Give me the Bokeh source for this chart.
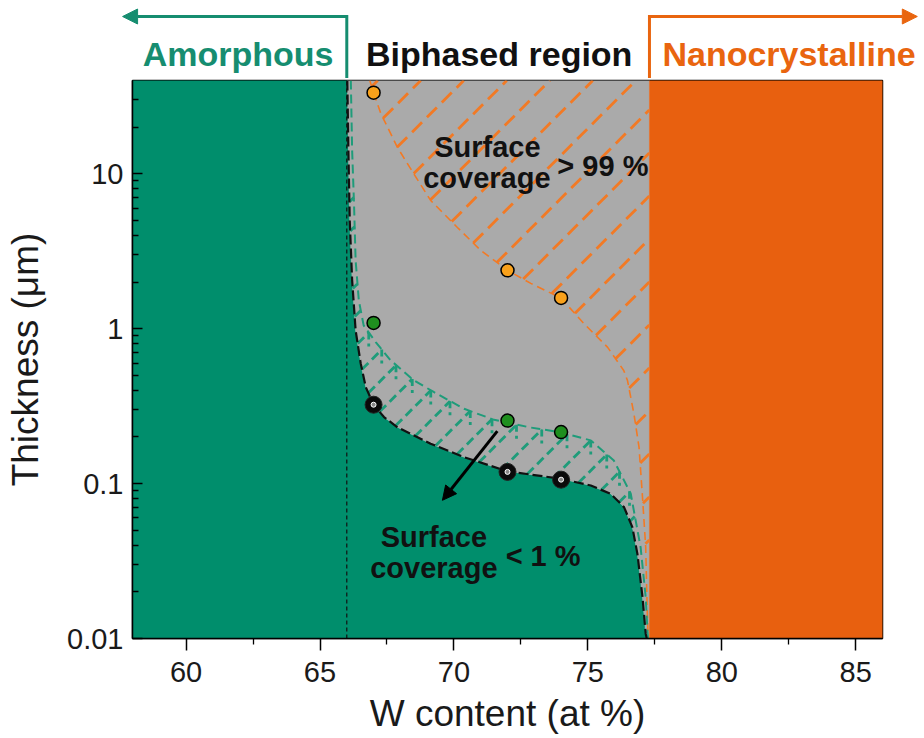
import numpy as np
from bokeh.plotting import figure
from bokeh.models import Range1d, FixedTicker, Arrow, NormalHead
from bokeh.layouts import column
from bokeh.embed import file_html
from bokeh.resources import INLINE
from bokeh.core.properties import value

# ---------------- data ----------------
x_lim = (58, 86)
y_lim = (0.01, 40)
x_ticks = [60, 65, 70, 75, 80, 85]
x_minor = [62.5, 67.5, 72.5, 77.5, 82.5]
y_ticks = [0.01, 0.1, 1, 10]
y_tick_labels = ["0.01", "0.1", "1", "10"]

amorphous_limit = 66.0
nanocryst_limit = 77.3

sample_w = [67, 72, 74]
thick_99 = [33.4, 2.38, 1.58]     # surface coverage > 99 %
thick_1 = [1.09, 0.255, 0.215]    # surface coverage < 1 %
thick_0 = [0.323, 0.119, 0.106]   # onset

# boundary amorphous / biphased (black dashed)
b0_x = [66.02, 66.06, 66.11, 66.20, 66.33, 66.52, 66.71, 67.0, 67.39, 67.89, 69.13,
        70.38, 72.0, 73.99, 75.11, 75.85, 76.35, 76.66, 76.85, 77.04, 77.16, 77.2]
b0_y = [40, 14.1, 5.0, 2.05, 0.974, 0.596, 0.419, 0.323, 0.269, 0.231, 0.181,
        0.148, 0.120, 0.1074, 0.0972, 0.0859, 0.0705, 0.0524, 0.0352, 0.0185, 0.0107, 0.01]
# < 1 % coverage line (green dashed)
b1_x = [66.15, 66.20, 66.27, 66.33, 66.45, 66.63, 67.08, 67.64, 68.51, 69.26, 70.38,
        71.50, 72.87, 73.99, 75.11, 75.97, 76.60, 76.97, 77.16, 77.23, 77.25]
b1_y = [40, 14.1, 6.4, 2.75, 1.52, 1.05, 0.818, 0.624, 0.463, 0.389, 0.304,
        0.258, 0.230, 0.214, 0.190, 0.141, 0.0863, 0.0387, 0.0184, 0.0108, 0.01]
# > 99 % coverage line (orange dashed)
b99_x = [66.86, 67.0, 67.27, 67.89, 68.50, 69.13, 70.13, 71.0, 72.0, 72.87, 73.99,
         74.85, 75.74, 76.34, 76.48, 76.72, 76.91, 77.04, 77.16, 77.22, 77.25]
b99_y = [40, 33.4, 24.5, 14.8, 10.0, 6.73, 4.50, 3.20, 2.38, 1.96, 1.58,
         1.08, 0.757, 0.537, 0.463, 0.282, 0.172, 0.0817, 0.0388, 0.0144, 0.01]

# annotations
hi_text = ["Surface", "coverage"]
hi_text_x = [71.25, 71.23]
hi_text_y = [14.8, 9.46]
hi_pct = "> 99 %"
hi_pct_pos = (73.86, 11.3)
lo_text = ["Surface", "coverage"]
lo_text_x = [69.25, 69.25]
lo_text_y = [0.0451, 0.0287]
lo_pct = "< 1 %"
lo_pct_pos = (71.93, 0.034)
arrow_from = (71.62, 0.218)
arrow_to = (69.57, 0.078)

header_labels = ["Amorphous", "Biphased region", "Nanocrystalline"]
header_label_x = [61.94, 71.69, 82.51]
header_arrow_tips = [57.63, 87.3]

# ---------------- styling / layout ----------------
GREEN = "#008E6C"
GREEN_LINE = "#1F9C7A"
ORANGE = "#E8600F"
ORANGE_LINE = "#F27A25"
GRAY = "#AAAAAA"
HDR_GREEN = "#168D70"
HDR_ORANGE = "#E9650F"
FONT = "Liberation Sans"

W = 920
LEFT = 132
FRAME_W = 750
HDR_H = 78
TOP = 2
FRAME_H = 558
BOTTOM = 98
H = TOP + FRAME_H + BOTTOM

LY0, LY1 = np.log10(y_lim[0]), np.log10(y_lim[1])


def from_px(u, v):
    x = x_lim[0] + u / FRAME_W * (x_lim[1] - x_lim[0])
    Y = LY0 + v / FRAME_H * (LY1 - LY0)
    return x, Y


def to_px(x, Y):
    u = (x - x_lim[0]) / (x_lim[1] - x_lim[0]) * FRAME_W
    v = (Y - LY0) / (LY1 - LY0) * FRAME_H
    return u, v


def sorted_fn(xs, ys):
    Y = np.log10(np.array(ys, dtype=float))
    X = np.array(xs, dtype=float)
    o = np.argsort(Y)
    return lambda q: np.interp(q, Y[o], X[o])


x_b0 = sorted_fn(b0_x, b0_y)
x_b1 = sorted_fn(b1_x, b1_y)
x_b99 = sorted_fn(b99_x, b99_y)


def hatch(left_fn, right_fn, step, phase, min_len=5):
    us = np.arange(0, FRAME_W + 0.25, 0.25)
    segs = []
    c = phase - np.ceil((FRAME_W + phase) / step) * step
    while c < FRAME_H:
        vs = us + c
        ok = (vs >= 0) & (vs <= FRAME_H)
        x, Y = from_px(us, vs)
        inside = ok & (x >= left_fn(Y)) & (x <= right_fn(Y))
        idx = np.flatnonzero(inside)
        if idx.size:
            breaks = np.flatnonzero(np.diff(idx) > 1)
            starts = np.r_[idx[0], idx[breaks + 1]]
            ends = np.r_[idx[breaks], idx[-1]]
            for s, e in zip(starts, ends):
                if (us[e] - us[s]) * 1.414 >= min_len:
                    segs.append(((x[s], x[e]), (Y[s], Y[e])))
        c += step
    return segs


orange_segs = hatch(x_b99, lambda Y: np.full_like(Y, nanocryst_limit), 43, 11.7)
green_segs = hatch(x_b0, x_b1, 30, 9.7, min_len=6)

# short vertical strokes dropping from the green line at the top of each diagonal
b0x_arr = np.array(b0_x)
b0Y_arr = np.log10(np.array(b0_y))
vert_x, vert_y = [], []
for (xs_, Ys_) in green_segs:
    xt, Yt = xs_[1], Ys_[1]
    ut, vt = to_px(xt, Yt)
    seg_len = np.hypot(*np.subtract(to_px(xs_[1], Ys_[1]), to_px(xs_[0], Ys_[0])))
    if seg_len < 10:
        continue
    _, vb_black = to_px(xt, np.interp(xt, b0x_arr, b0Y_arr))
    vb = max(vt - 14, vb_black)
    if vt - vb > 4:
        _, Yb = from_px(ut, vb)
        vert_x.append([xt, xt])
        vert_y.append([10 ** Yt, 10 ** Yb])

# ---------------- main figure ----------------
p = figure(width=W, height=H, x_range=Range1d(*x_lim), y_range=Range1d(*y_lim),
           y_axis_type="log", toolbar_location=None, output_backend="svg",
           min_border_left=LEFT, min_border_right=W - LEFT - FRAME_W,
           min_border_top=TOP, min_border_bottom=BOTTOM,
           background_fill_color="white", border_fill_color="white")
p.frame_align = False
p.grid.visible = False
p.outline_line_color = "black"
p.outline_line_width = 1.5

# fills
p.patch([x_lim[0], x_lim[0]] + b0_x, [y_lim[0], y_lim[1]] + b0_y,
        fill_color=GREEN, line_color=GREEN, line_width=0.5)
p.patch(b0_x + [nanocryst_limit, nanocryst_limit], b0_y + [y_lim[0], y_lim[1]],
        fill_color=GRAY, line_color=GRAY, line_width=0.5)
p.quad(left=[nanocryst_limit], right=[x_lim[1]], bottom=[y_lim[0]], top=[y_lim[1]],
       fill_color=ORANGE, line_color=ORANGE, line_width=0.5)

# amorphous limit
p.line([amorphous_limit, amorphous_limit], [y_lim[0], y_lim[1]], line_color="#111111",
       line_width=1.2, line_dash="4 3")

# hatching
p.multi_line([list(s[0]) for s in orange_segs], [[10 ** v for v in s[1]] for s in orange_segs],
             line_color=ORANGE_LINE, line_width=2.8, line_dash="14 7")
p.multi_line([list(s[0]) for s in green_segs], [[10 ** v for v in s[1]] for s in green_segs],
             line_color=GREEN_LINE, line_width=2.8, line_dash="9 5")
if vert_x:
    p.multi_line(vert_x, vert_y, line_color=GREEN_LINE, line_width=2.8, line_dash="7 4")

# boundary curves
p.line(b99_x, b99_y, line_color=ORANGE_LINE, line_width=1.6, line_dash="8 5")
p.line(b1_x, b1_y, line_color=GREEN_LINE, line_width=2, line_dash="9 5")
p.line(b0_x, b0_y, line_color="#111111", line_width=2.2, line_dash="10 4")

# markers
p.scatter(sample_w, thick_99, size=13, fill_color="#F9A11B", line_color="black", line_width=1.5)
p.scatter(sample_w, thick_1, size=13, fill_color="#1F8F1F", line_color="black", line_width=1.5)
p.scatter(sample_w, thick_0, size=17, fill_color="#0A0A0A", line_color="#222222", line_width=1)
p.scatter(sample_w, thick_0, size=5, fill_color="#888888", line_color="white", line_width=1)

# texts
txt_kw = dict(text_font=value(FONT), text_font_style="bold", text_font_size="29px",
              text_color="#111111", text_baseline="alphabetic")
p.text(x=hi_text_x, y=hi_text_y, text=hi_text, text_align="center", **txt_kw)
p.text(x=[hi_pct_pos[0]], y=[hi_pct_pos[1]], text=[hi_pct], text_align="left", **txt_kw)
p.text(x=lo_text_x, y=lo_text_y, text=lo_text, text_align="center", **txt_kw)
p.text(x=[lo_pct_pos[0]], y=[lo_pct_pos[1]], text=[lo_pct], text_align="left", **txt_kw)

p.add_layout(Arrow(end=NormalHead(size=14, fill_color="black", line_color="black"),
                   x_start=arrow_from[0], y_start=arrow_from[1],
                   x_end=arrow_to[0], y_end=arrow_to[1],
                   line_color="black", line_width=3))

# axes
p.xaxis.ticker = FixedTicker(ticks=x_ticks, minor_ticks=x_minor)
p.yaxis.ticker = FixedTicker(ticks=y_ticks,
                             minor_ticks=[m * 10.0 ** e for e in (-2, -1, 0, 1)
                                          for m in range(2, 10) if m * 10.0 ** e < y_lim[1]])
p.yaxis.major_label_overrides = dict(zip(y_ticks, y_tick_labels))
p.xaxis.axis_label = "W content (at %)"
p.yaxis.axis_label = "Thickness (μm)"
for ax in (p.xaxis, p.yaxis):
    ax.axis_line_color = "black"
    ax.axis_line_width = 1.5
    ax.major_tick_line_color = "black"
    ax.minor_tick_line_color = "black"
    ax.major_tick_line_width = 1.5
    ax.minor_tick_line_width = 1.3
    ax.major_label_text_font = FONT
    ax.major_label_text_font_size = "29px"
    ax.major_label_text_color = "#1a1a1a"
    ax.axis_label_text_font = FONT
    ax.axis_label_text_font_style = "normal"
    ax.axis_label_text_color = "#1a1a1a"
p.xaxis.major_tick_out = 12
p.xaxis.major_tick_in = 0
p.xaxis.minor_tick_out = 6
p.xaxis.minor_tick_in = 0
p.xaxis.major_label_standoff = 11
p.xaxis.axis_label_standoff = 8
p.xaxis.axis_label_text_font_size = "37px"
p.yaxis.major_tick_out = 0
p.yaxis.major_tick_in = 10
p.yaxis.minor_tick_out = 0
p.yaxis.minor_tick_in = 6
p.yaxis.major_label_standoff = 9
p.yaxis.axis_label_standoff = 18
p.yaxis.axis_label_text_font_size = "37px"

# ---------------- header figure (same x scale as the main frame) ----------------
k = (x_lim[1] - x_lim[0]) / FRAME_W
hdr = figure(width=W, height=HDR_H,
             x_range=Range1d(x_lim[0] - LEFT * k, x_lim[0] + (W - LEFT) * k),
             y_range=Range1d(HDR_H, 0), toolbar_location=None, output_backend="svg",
             min_border=0, min_border_left=0, min_border_right=0,
             min_border_top=0, min_border_bottom=0,
             x_axis_location=None, y_axis_location=None,
             outline_line_color=None, background_fill_color="white",
             border_fill_color="white")
hdr.frame_align = False
hdr.grid.visible = False

arrow_row = 16
for xb, tip, col in [(amorphous_limit, header_arrow_tips[0], HDR_GREEN),
                     (nanocryst_limit, header_arrow_tips[1], HDR_ORANGE)]:
    hdr.line([xb, xb], [HDR_H, arrow_row], line_color=col, line_width=3, line_cap="square")
    hdr.add_layout(Arrow(end=NormalHead(size=15, fill_color=col, line_color=col),
                         x_start=xb, y_start=arrow_row, x_end=tip, y_end=arrow_row,
                         line_color=col, line_width=3))

hdr.text(x=header_label_x, y=[34, 34, 34], text=header_labels,
         text_color=[HDR_GREEN, "#111111", HDR_ORANGE],
         text_font=value(FONT), text_font_style="bold", text_font_size="34px",
         text_align="center", text_baseline="top")

layout = column(hdr, p, spacing=0)
open("out.html", "w").write(file_html(layout, INLINE))
